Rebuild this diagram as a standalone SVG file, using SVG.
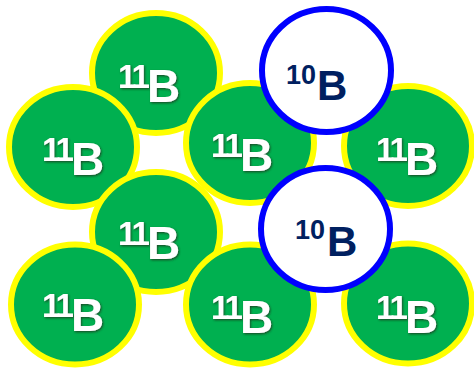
<svg xmlns="http://www.w3.org/2000/svg" width="474" height="370" viewBox="0 0 474 370">
<defs>
<filter id="sh" x="-20%" y="-20%" width="140%" height="140%">
<feDropShadow dx="1" dy="1.2" stdDeviation="0.9" flood-color="#1a3a20" flood-opacity="0.85"/>
</filter>
<style>
.b11 ellipse{fill:#00B050;stroke:#FFFF00;stroke-width:6}
.b10 ellipse{fill:#FFFFFF;stroke:#0000FF;stroke-width:6}
.t11{font-family:"Liberation Sans",Arial,sans-serif;font-weight:bold;fill:#FFFFFF;filter:url(#sh)}
.t10{font-family:"Liberation Sans",Arial,sans-serif;font-weight:bold;fill:#002060}
.s11{font-size:33px;letter-spacing:-3px}
.L11{font-size:46px}
.s10{font-size:27px}
.L10{font-size:42px}
</style>
</defs>
<rect width="474" height="370" fill="#FFFFFF"/>
<g id="connectors"/>
<g id="n1" class="b11"><ellipse cx="156" cy="73" rx="64" ry="60"/><text class="t11" x="118" y="88"><tspan class="s11">11</tspan><tspan class="L11" dy="14">B</tspan></text></g>
<g id="n3" class="b11"><ellipse cx="73" cy="147" rx="64" ry="60"/><text class="t11" x="42" y="161"><tspan class="s11">11</tspan><tspan class="L11" dy="14">B</tspan></text></g>
<g id="n4" class="b11"><ellipse cx="250" cy="143" rx="64" ry="60"/><text class="t11" x="211" y="157"><tspan class="s11">11</tspan><tspan class="L11" dy="14">B</tspan></text></g>
<g id="n5" class="b11"><ellipse cx="408" cy="146" rx="64" ry="60"/><text class="t11" x="376" y="161"><tspan class="s11">11</tspan><tspan class="L11" dy="14">B</tspan></text></g>
<g id="n6" class="b11"><ellipse cx="156" cy="232" rx="64" ry="60"/><text class="t11" x="118" y="245"><tspan class="s11">11</tspan><tspan class="L11" dy="14">B</tspan></text></g>
<g id="n8" class="b11"><ellipse cx="75" cy="304.5" rx="64" ry="60"/><text class="t11" x="42" y="317"><tspan class="s11">11</tspan><tspan class="L11" dy="14">B</tspan></text></g>
<g id="n9" class="b11"><ellipse cx="250" cy="304.5" rx="64" ry="60"/><text class="t11" x="211" y="319"><tspan class="s11">11</tspan><tspan class="L11" dy="14">B</tspan></text></g>
<g id="n10" class="b11"><ellipse cx="408" cy="303.5" rx="64" ry="60"/><text class="t11" x="376" y="319"><tspan class="s11">11</tspan><tspan class="L11" dy="14">B</tspan></text></g>
<g id="n2" class="b10"><ellipse cx="326.5" cy="70.5" rx="64.5" ry="61.5"/><text class="t10" x="286" y="83.5"><tspan class="s10">10</tspan><tspan class="L10" x="317" y="100">B</tspan></text></g>
<g id="n7" class="b10"><ellipse cx="325.5" cy="229" rx="64.5" ry="61"/><text class="t10" x="295" y="239"><tspan class="s10">10</tspan><tspan class="L10" x="327" y="255.5">B</tspan></text></g>
</svg>
